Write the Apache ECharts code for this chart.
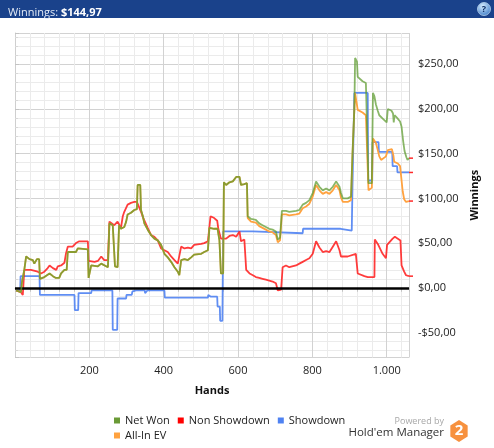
<!DOCTYPE html>
<html>
<head>
<meta charset="utf-8">
<script src="https://cdn.jsdelivr.net/npm/echarts@6/dist/echarts.min.js"></script>
<style>
  html, body { margin: 0; padding: 0; background: #fff; }
  #chart { width: 494px; height: 448px; }
</style>
</head>
<body>
<div id="chart"></div>
<script>
// values (hand number, dollars)
var netWonHands = [3,16,19,25,30,39,48,52,59,65,67,79,93,102,110,119,124,133,139,142,164,169,196,198,203,205,223,232,250,254,263,267,269,276,280,285,294,299,303,312,321,328,330,337,339,344,348,357,366,375,384,393,402,411,420,429,438,442,447,456,465,474,482,501,509,519,523,527,536,545,550,554,560,562,568,577,586,595,599,604,608,617,624,626,635,648,657,666,675,684,693,702,707,713,718,729,738,756,765,774,783,792,801,810,819,828,837,846,855,864,873,877,882,895,904,908,913,915,920,922,935,944,949,951,960,963,967,971,976,980,990,1000,1003,1008,1013,1017,1019,1021,1028,1036,1040,1044,1048,1053,1056,1060];
var netWonValues = [-3,-5,7,20,35,32,31,27,32,32,10,12,16,13,11,11,16,20,20,40,40,44,43,11,12,25,24,27,23,72,70,70,24,23,70,66,68,74,82,84,87,88,115,115,87,80,72,65,59,55,53,48,38,34,29,23,18,14,31,32,31,34,37,38,40,42,67,69,66,66,53,16,16,118,115,118,119,124,122,124,115,116,117,80,77,76,72,70,68,66,65,63,54,56,86,86,85,86,87,93,95,98,106,119,113,109,111,109,113,119,113,106,100,100,102,150,200,257,253,236,231,229,228,117,117,218,214,205,198,193,189,185,200,201,198,195,185,193,190,186,180,165,153,146,143,145];

var allInHands = [3,16,19,25,30,39,48,52,59,65,67,79,93,102,110,119,124,133,139,142,164,169,196,198,203,205,223,232,250,254,263,267,269,276,280,285,294,299,303,312,321,328,330,337,339,344,348,357,366,375,384,393,402,411,420,429,438,442,447,456,465,474,482,501,509,519,523,527,536,545,550,554,560,562,568,577,586,595,599,604,608,617,624,626,635,648,657,666,675,684,693,702,707,713,718,729,738,756,765,774,783,792,801,810,819,828,837,846,855,864,873,877,882,895,904,908,913,915,920,922,935,944,949,951,960,963,967,971,976,980,985,990,998,1003,1008,1014,1018,1020,1030,1036,1039,1043,1047,1052,1056,1060];
var allInValues = [-3,-5,7,20,35,32,31,27,32,32,10,12,16,13,11,11,16,20,20,40,40,44,43,11,12,25,24,27,23,72,70,70,24,23,70,66,68,74,82,84,87,88,115,115,87,80,72,65,59,55,53,48,38,34,29,23,18,14,31,32,31,34,37,38,40,42,67,69,66,66,53,16,16,118,115,118,119,124,122,124,115,116,117,78,74,73,69,67,65,63,62,59,51,53,82,82,81,82,83,89,91,94,102,115,109,105,107,105,109,115,109,101,96,96,98,150,200,218,216,199,196,193,192,109,112,167,169,162,154,147,143,141,147,154,156,155,148,141,139,136,124,108,99,96,96,97];

var showdownHands = [3,14,15,66,67,160,161,170,171,205,206,262,263,275,276,299,300,314,316,326,349,350,355,356,402,403,519,520,527,544,545,551,552,558,560,640,642,774,775,876,877,906,908,913,949,950,961,962,978,979,1015,1016,1028,1029,1060];
var showdownValues = [-3,-3,13,13,-8,-8,-25,-25,-6,-6,-3,-3,-47,-47,-12,-12,-8,-8,-4,-3,-3,-6,-6,-3,-3,-11,-11,-8,-10,-10,-21,-21,-37,-37,63,63,61,61,66,66,64,64,115,218,218,120,120,163,163,152,152,136,136,129,129];

var nonShowdownHands = [3,16,21,24,25,43,61,70,79,88,93,102,111,115,124,133,137,142,155,164,173,196,198,214,223,232,240,250,254,267,276,285,290,294,303,312,321,328,333,339,344,348,357,366,375,384,393,402,411,420,429,438,442,447,456,465,474,482,501,509,519,526,536,544,547,554,559,568,577,586,595,604,608,617,622,631,640,648,657,666,675,684,693,702,707,716,720,729,738,756,765,774,783,792,801,810,819,828,837,846,855,864,873,877,895,917,922,940,949,967,968,976,989,998,1001,1016,1022,1037,1040,1047,1052,1060];
var nonShowdownValues = [-3,-5,-8,-8,20,20,18,16,18,22,25,22,20,24,25,28,38,46,46,50,52,52,30,29,30,35,31,31,74,70,74,67,80,85,93,95,96,96,95,85,79,77,67,59,57,53,44,42,40,35,31,27,25,46,44,45,44,48,49,50,52,80,78,75,66,55,53,55,58,59,57,63,52,54,20,16,14,12,11,10,9,8,7,5,-3,-2,23,25,23,25,27,29,31,33,38,52,45,40,41,40,46,52,42,35,35,38,16,13,12,12,54,49,38,33,48,55,57,53,25,18,14,13];

var legendRowOne = ['Net Won', 'Non Showdown', 'Showdown'];
var legendRowTwo = ['All-In EV'];
var handTicks = [200, 400, 600, 800, 1000];

var FONT = '"Open Sans", "Noto Sans", sans-serif';

function pairs(h, v) {
    return h.map(function (x, i) { return [x, v[i]]; });
}
function money(v) {
    var s = Math.abs(v).toFixed(2).replace('.', ',');
    return (v < 0 ? '-$' : '$') + s;
}
function handLabel(v) {
    if (handTicks.indexOf(v) < 0) return '';
    return v >= 1000 ? Math.floor(v / 1000) + '.' + String(v % 1000).padStart(3, '0') : String(v);
}
function endMark(h, v) {
    return {
        symbol: 'rect', symbolSize: [4, 1.5], symbolOffset: [2, 0], silent: true,
        label: { show: false },
        itemStyle: { color: '#ff2a2a' },
        data: [{ coord: [h[h.length - 1], v[v.length - 1]] }]
    };
}
function legendRow(names, top) {
    return {
        data: names,
        left: 114, top: top,
        icon: 'rect', itemWidth: 6, itemHeight: 6, itemGap: 8,
        padding: 0,
        textStyle: { fontSize: 11, color: '#222', fontFamily: FONT }
    };
}

// hexagon for the logo
var hexPts = [];
for (var k = 0; k < 6; k++) {
    var a = Math.PI / 6 + k * Math.PI / 3;
    hexPts.push([459 + 10 * Math.cos(a), 431 + 11 * Math.sin(a)]);
}

var myChart = echarts.init(document.getElementById('chart'));
var option = {
    animation: false,
    backgroundColor: '#fff',
    textStyle: { fontFamily: FONT },
    title: {
        text: '{a|Winnings: }{b|$144,97}',
        left: 3, top: 2,
        textStyle: {
            fontWeight: 'normal',
            rich: {
                a: { color: '#e4ebf6', fontSize: 11, fontWeight: 'normal', fontFamily: FONT },
                b: { color: '#fff', fontSize: 11, fontWeight: 'bold', fontFamily: FONT }
            }
        }
    },
    graphic: [
        { type: 'rect', z: -1, shape: { x: 0, y: 0, width: 494, height: 18 }, style: { fill: '#1a428b' } },
        { type: 'circle', shape: { cx: 484, cy: 9, r: 6.5 },
          style: { fill: new echarts.graphic.RadialGradient(0.4, 0.3, 0.8, [{ offset: 0, color: '#d6ecff' }, { offset: 1, color: '#2f73c4' }]), stroke: '#b9d4ee', lineWidth: 0.8 } },
        { type: 'text', x: 484, y: 9, style: { text: '?', fill: '#0d2f66', font: 'bold 9px ' + FONT, align: 'center', verticalAlign: 'middle' } },
        { type: 'text', x: 444, y: 421, style: { text: 'Powered by', fill: '#a8a8a8', font: '9px ' + FONT, align: 'right', verticalAlign: 'middle' } },
        { type: 'text', x: 444, y: 433, style: { text: "Hold'em Manager", fill: '#333', font: '11.5px ' + FONT, align: 'right', verticalAlign: 'middle' } },
        { type: 'polygon', shape: { points: hexPts }, style: { fill: '#f7913e' } },
        { type: 'text', x: 459, y: 431, style: { text: '2', fill: '#fff', font: 'bold 15px ' + FONT, align: 'center', verticalAlign: 'middle' } }
    ],
    legend: [legendRow(legendRowOne, 415), legendRow(legendRowTwo, 430)],
    grid: { left: 15, right: 85, top: 33, bottom: 90.5, containLabel: false, outerBoundsMode: 'none' },
    xAxis: {
        type: 'value', min: 0, max: 1060, interval: 200,
        name: 'Hands', nameLocation: 'middle', nameGap: 28,
        nameTextStyle: { fontWeight: 'bold', fontSize: 11, color: '#111', fontFamily: FONT },
        axisLine: { show: true, lineStyle: { color: '#cfcfcf' } },
        axisTick: { show: true, length: 4, lineStyle: { color: '#c4c4c4' } },
        minorTick: { show: true, splitNumber: 5, length: 4, lineStyle: { color: '#c4c4c4' } },
        axisLabel: { formatter: handLabel, showMinLabel: false, showMaxLabel: false, margin: 8, fontSize: 11, color: '#222', fontFamily: FONT },
        splitLine: { show: true, lineStyle: { color: '#d2d2d2' } },
        minorSplitLine: { show: true, lineStyle: { color: '#ebebeb' } }
    },
    yAxis: {
        type: 'value', position: 'right', min: -78, max: 285, splitNumber: 7,
        name: 'Winnings', nameLocation: 'middle', nameGap: 53, nameRotate: 90,
        nameTextStyle: { fontWeight: 'bold', fontSize: 11, color: '#111', fontFamily: FONT },
        axisLine: { show: true, lineStyle: { color: '#cfcfcf' } },
        axisTick: { show: true, length: 4, lineStyle: { color: '#c4c4c4' } },
        minorTick: { show: true, splitNumber: 5, length: 3, lineStyle: { color: '#d8d8d8' } },
        axisLabel: { formatter: money, showMinLabel: false, showMaxLabel: false, margin: 9, fontSize: 11, color: '#222', fontFamily: FONT },
        splitLine: { show: true, lineStyle: { color: '#d2d2d2' } },
        minorSplitLine: { show: true, lineStyle: { color: '#ebebeb' } }
    },
    series: [
        {
            name: 'Showdown', type: 'line', showSymbol: false, z: 2,
            data: pairs(showdownHands, showdownValues),
            itemStyle: { color: '#4f82f2' },
            lineStyle: { width: 1.8, color: '#4f82f2', opacity: 0.9 },
            markPoint: endMark(showdownHands, showdownValues),
            markLine: {
                silent: true, symbol: 'none', label: { show: false },
                lineStyle: { color: '#000', width: 2.5, type: 'solid' },
                data: [{ yAxis: 0 }]
            }
        },
        {
            name: 'Non Showdown', type: 'line', showSymbol: false, z: 3,
            data: pairs(nonShowdownHands, nonShowdownValues),
            itemStyle: { color: '#ff0000' },
            lineStyle: { width: 1.8, color: '#ff1a1a', opacity: 0.85 },
            markPoint: endMark(nonShowdownHands, nonShowdownValues)
        },
        {
            name: 'All-In EV', type: 'line', showSymbol: false, z: 4,
            data: pairs(allInHands, allInValues),
            itemStyle: { color: '#ffa23f' },
            lineStyle: { width: 1.8, color: '#ffa23f' },
            markPoint: endMark(allInHands, allInValues)
        },
        {
            name: 'Net Won', type: 'line', showSymbol: false, z: 5,
            data: pairs(netWonHands, netWonValues),
            itemStyle: { color: '#6a9a36' },
            lineStyle: { width: 1.8, color: '#5c9a2c', opacity: 0.72 },
            markPoint: endMark(netWonHands, netWonValues)
        }
    ]
};
option && myChart.setOption(option);
window.onresize = function () {
    myChart.resize();
};
</script>
</body>
</html>
